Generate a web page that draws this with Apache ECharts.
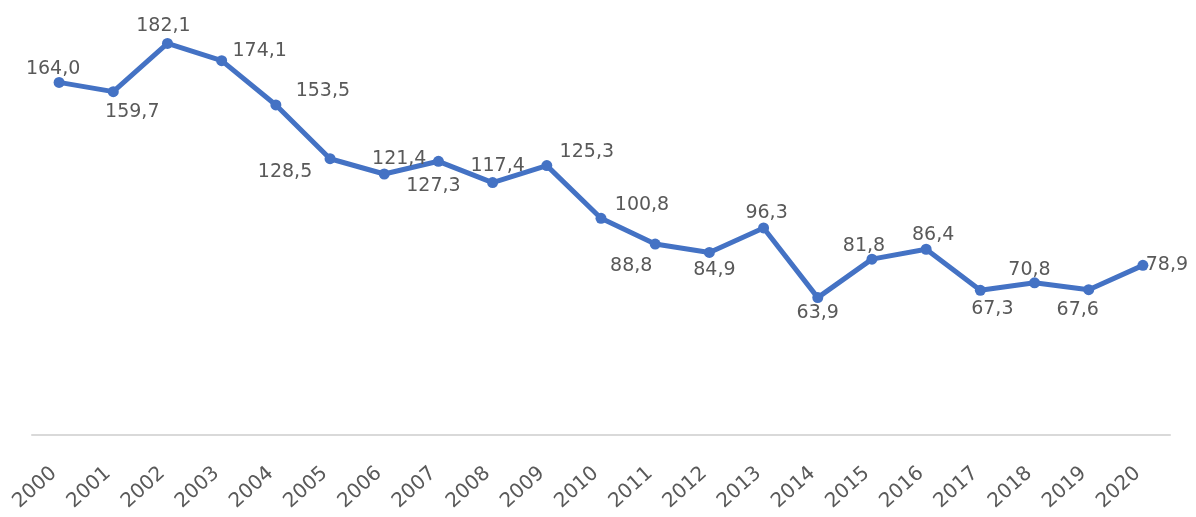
<!DOCTYPE html>
<html>
<head>
<meta charset="utf-8">
<script src="https://cdn.jsdelivr.net/npm/echarts@6/dist/echarts.min.js"></script>
<style>
html,body{margin:0;padding:0;background:#fff;}
#chart{width:1196px;height:517px;}
</style>
</head>
<body>
<div id="chart"></div>
<script>
const years = ['2000','2001','2002','2003','2004','2005','2006','2007','2008','2009','2010','2011','2012','2013','2014','2015','2016','2017','2018','2019','2020'];
const values = [164.0,159.7,182.1,174.1,153.5,128.5,121.4,127.3,117.4,125.3,100.8,88.8,84.9,96.3,63.9,81.8,86.4,67.3,70.8,67.6,78.9];

// label offsets (text centre relative to the point), styling only
const labelOffsets = [[-6,-13],[19,20],[-4,-17],[38,-10],[47,-14],[-45,13],[15,-15],[-5,25],[5,-17],[40,-14],[41,-13],[-24,22],[5,18],[3,-15],[0,15],[-8,-13],[7,-14],[12,19],[-5,-13],[-11,20],[24,0]];

const seriesData = values.map((v, i) => ({
  value: v,
  label: { offset: labelOffsets[i] }
}));

const chart = echarts.init(document.getElementById('chart'));
chart.setOption({
  animation: false,
  grid: { left: 32, right: 26, top: 5, bottom: 82, containLabel: false },
  xAxis: {
    type: 'category',
    data: years,
    boundaryGap: true,
    axisLine: { show: true, lineStyle: { color: '#d9d9d9', width: 2 } },
    axisTick: { show: false },
    axisLabel: {
      rotate: 42,
      color: '#595959',
      fontFamily: 'DejaVu Sans',
      fontSize: 20,
      margin: 31,
      padding: [0, 7, 0, 0],
      interval: 0
    }
  },
  yAxis: {
    type: 'value',
    min: 0,
    max: 200,
    show: false,
    splitLine: { show: false }
  },
  series: [{
    type: 'line',
    data: seriesData,
    symbol: 'circle',
    symbolSize: 11,
    lineStyle: { color: '#4472C4', width: 5 },
    itemStyle: { color: '#4472C4' },
    label: {
      show: true,
      position: 'inside',
      color: '#595959',
      fontFamily: 'DejaVu Sans',
      fontSize: 19,
      formatter: p => p.value.toFixed(1).replace('.', ',')
    }
  }]
});
</script>
</body>
</html>
